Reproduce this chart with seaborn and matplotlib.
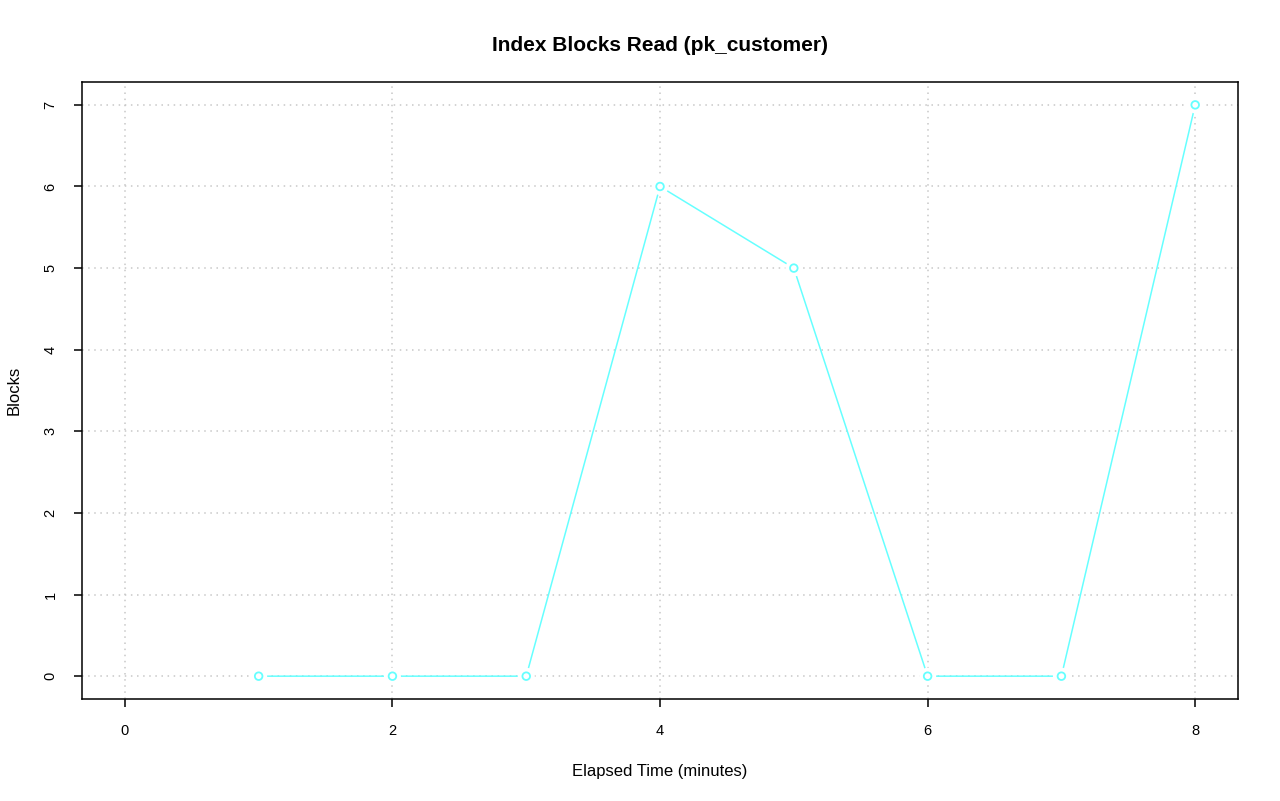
import pandas as pd
import matplotlib
matplotlib.use("Agg")
import matplotlib.pyplot as plt
import seaborn as sns

elapsed_minutes = [1, 2, 3, 4, 5, 6, 7, 8]
blocks_read = [0, 0, 0, 6, 5, 0, 0, 7]
x_ticks = [0, 2, 4, 6, 8]
y_ticks = [0, 1, 2, 3, 4, 5, 6, 7]

LINE_COLOR = "#66ffff"

sns.set_theme(style="white")
plt.rcParams["font.family"] = ["Liberation Sans", "DejaVu Sans"]
plt.rcParams["text.color"] = "black"
plt.rcParams["axes.labelcolor"] = "black"
plt.rcParams["xtick.color"] = "black"
plt.rcParams["ytick.color"] = "black"

df = pd.DataFrame({"minutes": elapsed_minutes, "blocks": blocks_read})

fig = plt.figure(figsize=(12.8, 8.01), dpi=100)
ax = fig.add_axes([0.0641, 0.1273, 0.9031, 0.7703])

# line, then white halos to get the R type="b" gaps, then grid, then the open circles
sns.lineplot(data=df, x="minutes", y="blocks", ax=ax, color=LINE_COLOR,
             linewidth=1.1, zorder=2)
sns.scatterplot(data=df, x="minutes", y="blocks", ax=ax, s=150, color="white",
                edgecolor="none", linewidth=0, zorder=2.5)
sns.scatterplot(data=df, x="minutes", y="blocks", ax=ax, s=30, facecolor="none",
                edgecolor=LINE_COLOR, linewidth=1.3, zorder=4)

ax.set_xlim(-0.32, 8.32)
ax.set_ylim(-0.28, 7.28)
ax.set_xticks(x_ticks)
ax.set_yticks(y_ticks)
ax.grid(True, color="#c8c8c8", linestyle=(0, (1, 3)), linewidth=1.1)
for line in ax.get_xgridlines() + ax.get_ygridlines():
    line.set_zorder(3)

for sp in ax.spines.values():
    sp.set_visible(True)
    sp.set_color("black")
    sp.set_linewidth(1.1)

ax.tick_params(axis="x", direction="out", length=5.5, width=1.1, color="black",
               labelsize=10.5, pad=12.5, bottom=True, labelcolor="black")
ax.tick_params(axis="y", direction="out", length=5.5, width=1.1, color="black",
               labelsize=10.5, pad=12, left=True, labelcolor="black")
for lbl in ax.get_yticklabels():
    lbl.set_rotation(90)
    lbl.set_va("center")

ax.set_xlabel("Elapsed Time (minutes)", fontsize=12, labelpad=19, color="black")
ax.set_ylabel("Blocks", fontsize=12, labelpad=16, color="black")
ax.set_title("Index Blocks Read (pk_customer)", fontsize=15, fontweight="bold",
             pad=22, color="black")

fig.savefig("out.png", dpi=100)
